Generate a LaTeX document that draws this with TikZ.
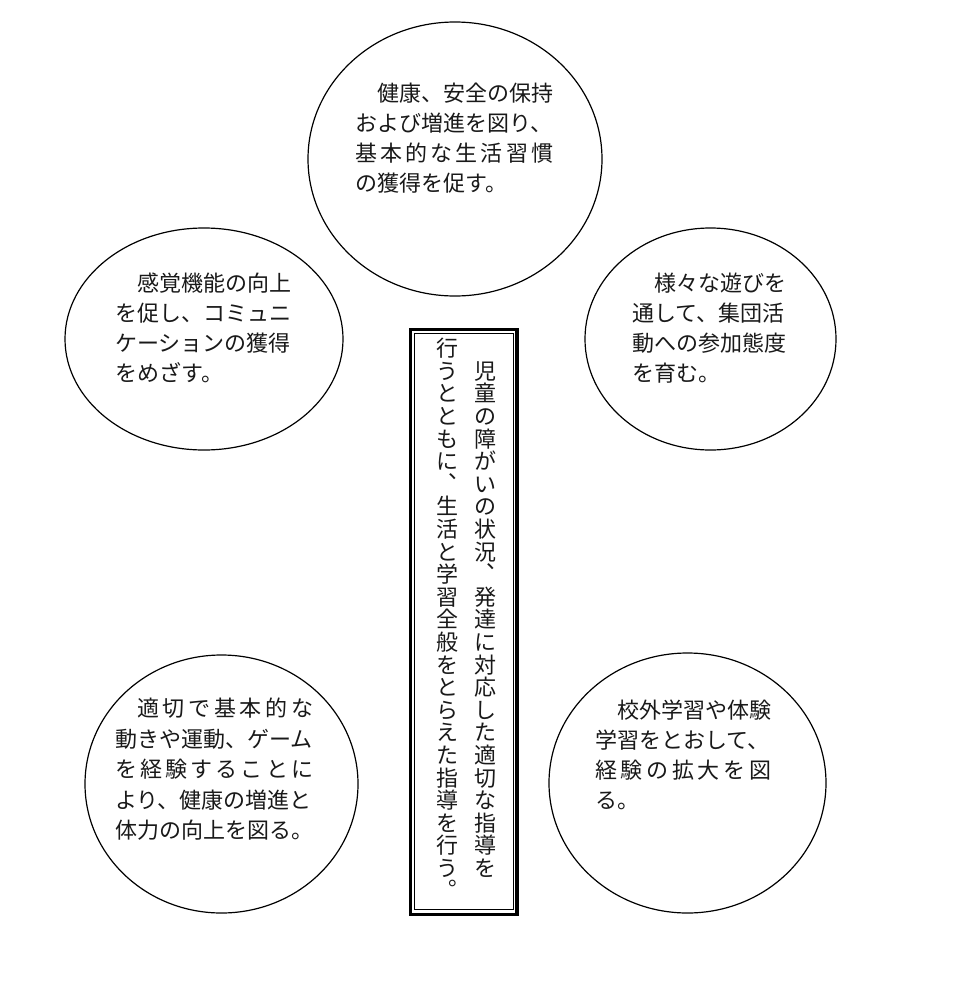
\documentclass[tikz,border=0pt]{standalone}
\usepackage{fontspec}
\setmainfont{Noto Sans CJK JP}
\usetikzlibrary{shapes.geometric}

\newdimen\tw
\def\spreadA#1{\ifx#1\relax\else#1\expandafter\spreadB\fi}
\def\spreadB#1{\ifx#1\relax\else\hfill#1\expandafter\spreadB\fi}
\newcommand\jl[1]{\hbox to \tw{#1\hfil}}
\newcommand\js[1]{\hbox to \tw{\spreadA#1\relax}}
\newcommand\jsi[1]{\hbox to \tw{\hspace*{1em}\spreadA#1\relax}}
\newcommand\tblock[3]{\vtop{\tw=#1em\relax\baselineskip=#2pt\relax\lineskiplimit=-20pt\lineskip=0pt #3}}

\def\vcomma{、}
\def\vperiod{。}
\newcommand\vstrut{\vrule height 19.4pt depth 3.2pt width 0pt}
\newcommand\vpunct[1]{\hbox to 1em{\vstrut\hspace*{0.55em}\makebox[0.45em][l]{\raisebox{0.62em}{#1}}}}
\def\vchar#1{\def\vtmp{#1}\ifx\vtmp\vcomma\vpunct{#1}\else\ifx\vtmp\vperiod\vpunct{#1}\else\hbox to 1em{\vstrut\hss#1\hss}\fi\fi}
\def\vcolA#1{\ifx#1\relax\else\vchar{#1}\expandafter\vcolA\fi}
\newcommand\vcol[1]{\vbox{\offinterlineskip\vcolA#1\relax}}

\tikzset{
  circ/.style={ellipse, draw, line width=1.2pt, inner sep=0pt},
  jtext/.style={font=\fontsize{22pt}{30pt}\selectfont, inner sep=0pt, text=black!90},
}

\begin{document}
\begin{tikzpicture}[x=1pt,y=-1pt]
\fill[white] (0,0) rectangle (976,996);
\useasboundingbox (0,0) rectangle (976,996);

% ellipses
\node[circ, minimum width=294pt, minimum height=274pt] (eTop) at (455,159) {};
\node[circ, minimum width=278pt, minimum height=222pt] (eL) at (204,339) {};
\node[circ, minimum width=251pt, minimum height=222pt] (eR) at (710.5,339) {};
\node[circ, minimum width=273pt, minimum height=258pt] (eBL) at (221.5,784) {};
\node[circ, minimum width=277pt, minimum height=260pt] (eBR) at (687.5,783) {};

% texts in ellipses
\node[jtext, anchor=base west] (tTop) at (355,101.3)
  {\tblock{9}{30}{\jsi{健康、安全の保持}\jl{および増進を図り、}\js{基本的な生活習慣}\jl{の獲得を促す。}}};
\node[jtext, anchor=base west] (tL) at (115,291.3)
  {\tblock{8}{30}{\jsi{感覚機能の向上}\jl{を促し、コミュニ}\jl{ケーションの獲得}\jl{をめざす。}}};
\node[jtext, anchor=base west] (tR) at (632,291.3)
  {\tblock{7}{30}{\jsi{様々な遊びを}\jl{通して、集団活}\jl{動への参加態度}\jl{を育む。}}};
\node[jtext, anchor=base west] (tBL) at (115,716.5)
  {\tblock{9}{30.5}{\jsi{適切で基本的な}\jl{動きや運動、ゲーム}\js{を経験することに}\jl{より、健康の増進と}\jl{体力の向上を図る。}}};
\node[jtext, anchor=base west] (tBR) at (595,718.3)
  {\tblock{8}{30}{\jsi{校外学習や体験}\jl{学習をとおして、}\js{経験の拡大を図}\jl{る。}}};

% central double-framed box
\node[draw, line width=3.3pt, inner sep=0pt, minimum width=106.3pt, minimum height=585.4pt] (outerBox) at (463.85,622) {};
\node[draw, line width=1pt, inner sep=0pt, minimum width=98.3pt, minimum height=575.9pt] (innerBox) at (463.85,621.75) {};

\node[jtext, anchor=north] (colR) at (485,359.6)
  {\vcol{児童の障がいの状況、発達に対応した適切な指導を}};
\node[jtext, anchor=north] (colL) at (447,337)
  {\vcol{行うとともに、生活と学習全般をとらえた指導を行う。}};
\end{tikzpicture}
\end{document}
